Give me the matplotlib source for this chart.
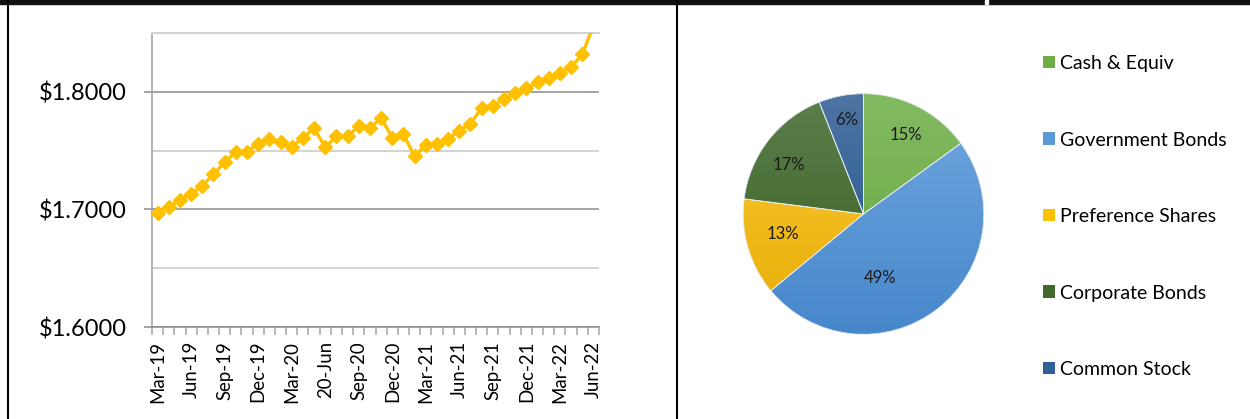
import matplotlib
matplotlib.use("Agg")
import matplotlib.pyplot as plt
import numpy as np
from matplotlib.lines import Line2D
from matplotlib.patches import Rectangle
from matplotlib.colors import LinearSegmentedColormap

plt.rcParams['font.family'] = ['Lato', 'DejaVu Sans']

# monthly values, Mar-19 .. Jun-22
months = ['Mar-19', 'Apr-19', 'May-19', 'Jun-19', 'Jul-19', 'Aug-19', 'Sep-19', 'Oct-19',
          'Nov-19', 'Dec-19', 'Jan-20', 'Feb-20', 'Mar-20', 'Apr-20', 'May-20', '20-Jun',
          'Jul-20', 'Aug-20', 'Sep-20', 'Oct-20', 'Nov-20', 'Dec-20', 'Jan-21', 'Feb-21',
          'Mar-21', 'Apr-21', 'May-21', 'Jun-21', 'Jul-21', 'Aug-21', 'Sep-21', 'Oct-21',
          'Nov-21', 'Dec-21', 'Jan-22', 'Feb-22', 'Mar-22', 'Apr-22', 'May-22', 'Jun-22']
prices = [1.697, 1.702, 1.708, 1.713, 1.720, 1.730, 1.740, 1.749, 1.749, 1.756,
          1.760, 1.757, 1.753, 1.761, 1.769, 1.753, 1.762, 1.762, 1.771, 1.769,
          1.778, 1.761, 1.764, 1.745, 1.755, 1.756, 1.760, 1.767, 1.773, 1.786,
          1.788, 1.794, 1.799, 1.803, 1.808, 1.812, 1.816, 1.821, 1.832, 1.856]
label_every = 3

# asset allocation
assets = ['Cash & Equiv', 'Government Bonds', 'Preference Shares', 'Corporate Bonds', 'Common Stock']
shares = [15, 49, 13, 17, 6]
light = ['#82BA62', '#72A8DF', '#FFCA3C', '#5B7F4B', '#4E74A2']
dark = ['#68A73C', '#4687CB', '#E5AC00', '#365E1F', '#1D538F']
mid = ['#70AD47', '#5B9BD5', '#FFC000', '#43682B', '#2E5F97']
# label spots inside the pie (in radius units)
label_xy = [(0.35, 0.66), (0.14, -0.53), (-0.67, -0.165), (-0.62, 0.41), (-0.14, 0.78)]

W, H = 1250, 419
fig = plt.figure(figsize=(W / 100, H / 100), dpi=100)

# ---- line chart ----
ax = fig.add_axes([152 / W, (H - 327) / H, 447 / W, 294 / H])
x = np.arange(len(prices))
ax.plot(x, prices, color='#FFC000', lw=2.4, marker='D', ms=7, mec='#FFC000', mfc='#FFC000', zorder=3)
ax.set_xlim(-0.5, len(prices) - 0.5)
ax.set_ylim(1.6, 1.85)

ax.set_yticks([1.6, 1.7, 1.8])
ax.set_yticklabels(['$%.4f' % v for v in [1.6, 1.7, 1.8]])
ax.set_yticks([1.65, 1.75, 1.85], minor=True)
ax.grid(axis='y', which='major', color='#8C8C8C', lw=1.1)
ax.grid(axis='y', which='minor', color='#D4D4D4', lw=1.5)
ax.tick_params(axis='y', which='major', length=6, color='#8C8C8C', width=1.1, labelsize=17, pad=12)
ax.tick_params(axis='y', which='minor', length=0)

ax.set_xticks(x[::label_every])
ax.set_xticklabels(months[::label_every], rotation=90)
ax.set_xticks(np.arange(len(prices) + 1) - 0.5, minor=True)
ax.tick_params(axis='x', which='major', length=0, labelsize=13.4, pad=10)
ax.tick_params(axis='x', which='minor', length=6, color='#A6A6A6', width=1.1)

ax.spines['right'].set_visible(False)
ax.spines['top'].set_color('#D4D4D4')
ax.spines['top'].set_linewidth(1.5)
ax.spines['left'].set_color('#A0A0A0')
ax.spines['bottom'].set_color('#8C8C8C')
ax.spines['left'].set_linewidth(1.1)
ax.spines['bottom'].set_linewidth(1.1)

# ---- pie chart ----
r = 121.5
cx, cy = 863.5, 214
pax = fig.add_axes([(cx - r) / W, (H - cy - r) / H, 2 * r / W, 2 * r / H])
wedges, _, autotexts = pax.pie(shares, colors=mid, startangle=90, counterclock=False,
                               autopct='%1.0f%%', radius=1,
                               textprops=dict(fontsize=12, color='#1a1a1a'))
grad = np.linspace(0, 1, 256).reshape(-1, 1)
for w, lo, hi in zip(wedges, dark, light):
    cm = LinearSegmentedColormap.from_list('g', [lo, hi])
    im = pax.imshow(grad, cmap=cm, extent=(-1, 1, -1, 1), origin='lower', aspect='auto', zorder=1.5)
    im.set_clip_path(w)
pax.pie(shares, colors=['none'] * len(shares), startangle=90, counterclock=False, radius=1,
        wedgeprops=dict(edgecolor='#E8EEF5', lw=0.6, zorder=2))
for t, pos in zip(autotexts, label_xy):
    t.set_position(pos)
    t.set_ha('center')
    t.set_va('center')
    t.set_zorder(4)
pax.set_xlim(-1.01, 1.01)
pax.set_ylim(-1.01, 1.01)
pax.axis('off')

leg = fig.legend(wedges, assets, loc='upper left', bbox_to_anchor=(1043 / W, (H - 55) / H),
                 frameon=False, fontsize=14, handlelength=0.6, handleheight=0.6,
                 handletextpad=0.3, labelspacing=3.06, borderpad=0, borderaxespad=0)
for h, c in zip(leg.legend_handles, mid):
    h.set_facecolor(c)
    h.set_edgecolor('none')

# ---- frame lines ----
fig.add_artist(Rectangle((0, (H - 4) / H), 1, 4 / H, transform=fig.transFigure, color='#111111'))
fig.add_artist(Rectangle((985 / W, (H - 4) / H), 3 / W, 4 / H, transform=fig.transFigure, color='white'))
fig.add_artist(Line2D([7.5 / W, 7.5 / W], [0, 1], transform=fig.transFigure, color='black', lw=1.5))
fig.add_artist(Line2D([677 / W, 677 / W], [0, 1], transform=fig.transFigure, color='black', lw=1.5))

fig.savefig('out.png', dpi=100)
